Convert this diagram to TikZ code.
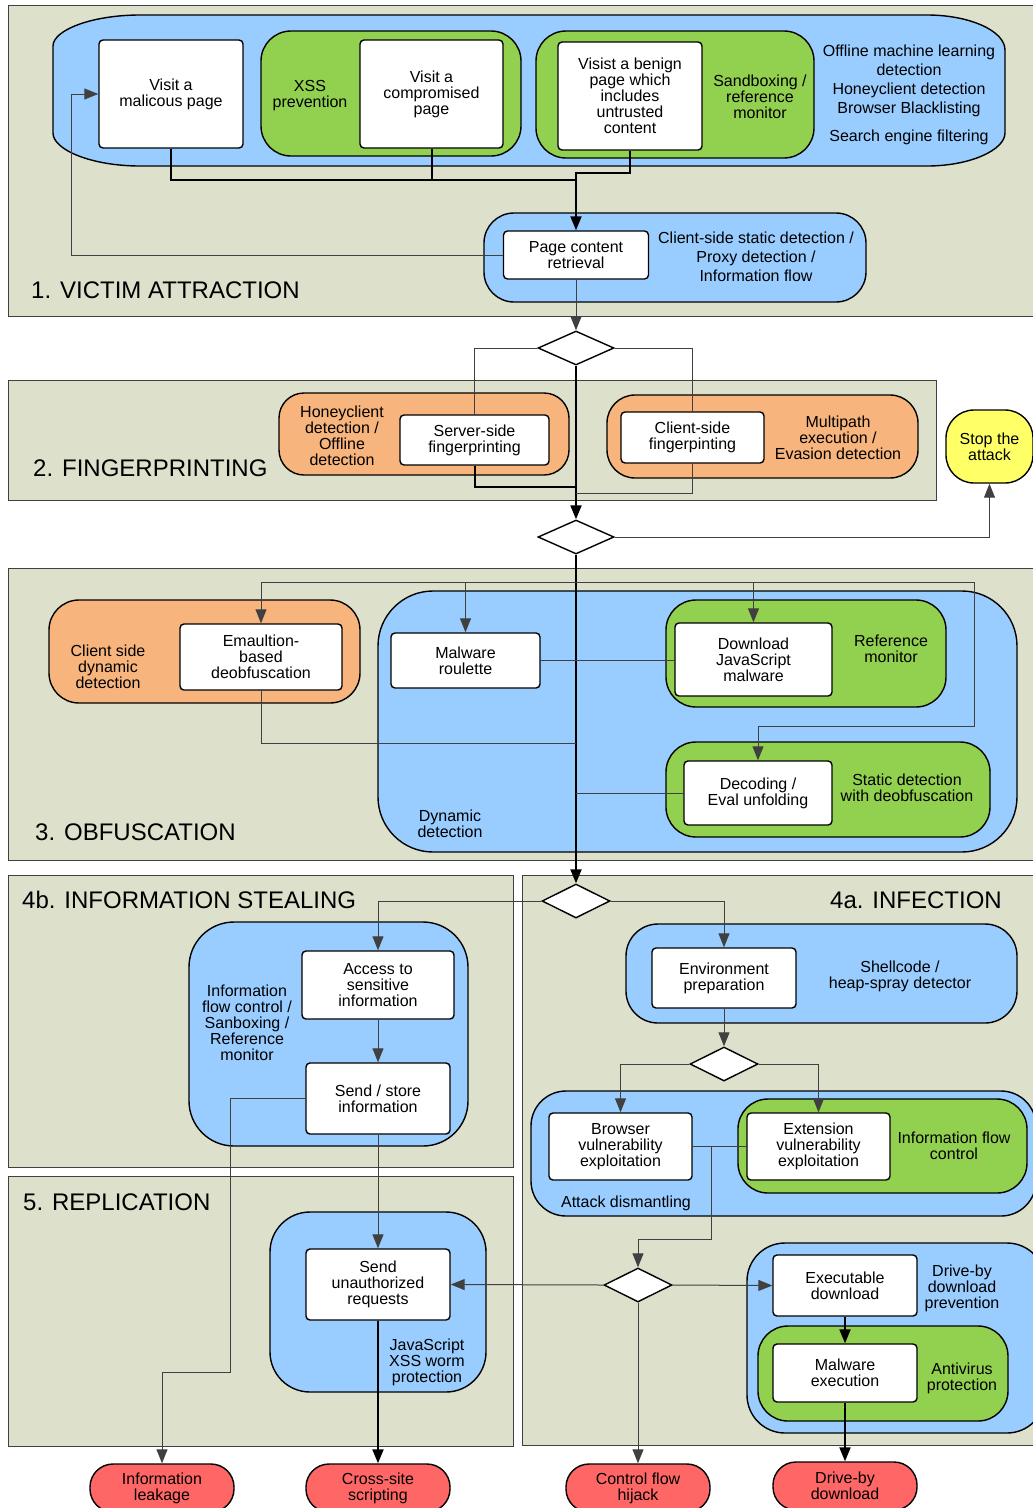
\documentclass[tikz,border=0pt]{standalone}
\usepackage{fontspec}
\setmainfont{Liberation Sans}
\usetikzlibrary{arrows.meta,shapes.geometric}
\definecolor{phasebg}{RGB}{221,225,204}
\definecolor{skyblue}{RGB}{153,204,255}
\definecolor{leafgreen}{RGB}{146,208,80}
\definecolor{peach}{RGB}{247,180,125}
\definecolor{lemon}{RGB}{255,255,102}
\definecolor{salmon}{RGB}{255,102,102}
\begin{document}
\begin{tikzpicture}[x=1pt,y=-1pt,
  phase/.style={draw=black!75,line width=1pt,fill=phasebg},
  bluebg/.style={draw,line width=1.4pt,fill=skyblue},
  greenbg/.style={draw,line width=1.4pt,fill=leafgreen},
  orangebg/.style={draw,line width=1.4pt,fill=peach},
  act/.style={draw,line width=1.4pt,fill=white,rounded corners=4pt,align=center,
    inner sep=0pt,font=\fontsize{16}{16}\selectfont},
  note/.style={align=center,inner sep=0pt,font=\fontsize{16}{16}\selectfont},
  widenote/.style={align=center,inner sep=0pt,font=\fontsize{16}{19}\selectfont},
  phasetitle/.style={inner sep=0pt,font=\fontsize{24}{24}\selectfont},
  decision/.style={diamond,draw,line width=1.4pt,fill=white,inner sep=0pt,
    minimum width=68pt,minimum height=34pt},
  outcome/.style={draw,line width=1.4pt,fill=salmon,rounded corners=23pt,align=center,
    inner sep=0pt,minimum width=144pt,minimum height=48pt,font=\fontsize{16}{16}\selectfont},
  halt/.style={draw,line width=1.4pt,fill=lemon,rounded corners=28pt,align=center,
    inner sep=0pt,minimum width=87pt,minimum height=73pt,font=\fontsize{16}{16}\selectfont},
  flow/.style={line width=2pt},
  link/.style={line width=1pt,black!75},
  arr/.style={-{Triangle[length=14pt,width=11pt]}}]
\useasboundingbox (0,0) rectangle (1033,1508);
\clip (0,0) rectangle (1033,1508);
\draw[phase] (8,5) rectangle (1040,316);
\draw[phase] (8,380) rectangle (936,500);
\draw[phase] (8,568) rectangle (1040,860);
\draw[phase] (8,875) rectangle (513,1167);
\draw[phase] (522,875) rectangle (1040,1445);
\draw[phase] (8,1176) rectangle (513,1446);
\draw[bluebg] (140,15) -- (927,15) .. controls (970,15) and (1005,31) .. (1005,50)
  -- (1005,133) .. controls (1005,150) and (970,166) .. (927,166)
  -- (140,166) .. controls (92,166) and (53,150) .. (53,133)
  -- (53,46) .. controls (53,30) and (92,15) .. (140,15) -- cycle;
\draw[greenbg,rounded corners=30pt] (261,31) rectangle (521,156);
\draw[greenbg,rounded corners=30pt] (536,31) rectangle (814,158);
\draw[bluebg,rounded corners=30pt] (484,213) rectangle (866,302);
\draw[orangebg,rounded corners=25pt] (279,393) rectangle (569,475);
\draw[orangebg,rounded corners=28pt] (607,395) rectangle (918,478);
\draw[orangebg,rounded corners=30pt] (49,600) rectangle (360,703);
\draw[bluebg,rounded corners=55pt] (378,591) rectangle (1017,852);
\draw[greenbg,rounded corners=30pt] (666,600) rectangle (946,707);
\draw[greenbg,rounded corners=30pt] (666,742) rectangle (990,837);
\draw[bluebg,rounded corners=45pt] (189,922) rectangle (468,1146);
\draw[bluebg,rounded corners=32pt] (626,924) rectangle (1017,1023);
\draw[bluebg,rounded corners=35pt] (531,1091) rectangle (1036,1216);
\draw[greenbg,rounded corners=30pt] (738,1099) rectangle (1027,1193);
\draw[bluebg,rounded corners=38pt] (747,1243) rectangle (1045,1433);
\draw[greenbg,rounded corners=30pt] (758,1326) rectangle (1008,1421);
\draw[bluebg,rounded corners=40pt] (270,1212) rectangle (486,1392);

\node[phasetitle,anchor=west] (t1) at (31,290) {1. VICTIM ATTRACTION};
\node[phasetitle,anchor=west] (t2) at (33,468) {2. FINGERPRINTING};
\node[phasetitle,anchor=west] (t3) at (35,832) {3. OBFUSCATION};
\node[phasetitle,anchor=west] (t4b) at (22,900) {4b. INFORMATION STEALING};
\node[phasetitle,anchor=east] (t4a) at (1002,900) {4a. INFECTION};
\node[phasetitle,anchor=west] (t5) at (23,1202) {5. REPLICATION};

\node[act,minimum width=144pt,minimum height=108pt] (malic) at (171,94) {Visit a\\malicous page};
\node[act,minimum width=143pt,minimum height=108pt] (compr) at (431.5,94) {Visit a\\compromised\\page};
\node[act,minimum width=144pt,minimum height=108pt] (benign) at (630,96) {Visist a benign\\page which\\includes\\untrusted\\content};
\node[act,minimum width=145pt,minimum height=48pt] (retr) at (576,255) {Page content\\retrieval};
\node[note] (xssp) at (310,96) {XSS\\prevention};
\node[note] (sandp) at (760,97) {Sandboxing /\\reference\\monitor};
\node[widenote] (offl) at (909,80.5) {Offline machine learning\\detection\\Honeyclient detection\\Browser Blacklisting};
\node[note] (srch) at (909,137) {Search engine filtering};
\node[widenote] (csd) at (756,257) {Client-side static detection /\\Proxy detection /\\Information flow};

\node[decision,minimum width=76pt] (d1) at (576,348) {};
\node[act,minimum width=149pt,minimum height=50pt] (server) at (474.5,440) {Server-side\\fingerprinting};
\node[act,minimum width=143pt,minimum height=51pt] (client) at (692.5,437.5) {Client-side\\fingerpinting};
\node[note] (hcd) at (342,436) {Honeyclient\\detection /\\Offline\\detection};
\node[note] (mpe) at (838,438) {Multipath\\execution /\\Evasion detection};
\node[halt] (stop) at (989.5,446.5) {Stop the\\attack};
\node[decision,minimum width=76pt] (d2) at (576,537) {};

\node[act,minimum width=162pt,minimum height=66pt] (emul) at (261,657) {Emaultion-\\based\\deobfuscation};
\node[act,minimum width=149pt,minimum height=55pt] (roul) at (465.5,660.5) {Malware\\roulette};
\node[act,minimum width=157pt,minimum height=73pt] (download) at (753.5,659.5) {Download\\JavaScript\\malware};
\node[act,minimum width=148pt,minimum height=64pt] (decode) at (758,793) {Decoding /\\Eval unfolding};
\node[note] (cdd) at (108,667) {Client side\\dynamic\\detection};
\node[note] (dynd) at (450,824) {Dynamic\\detection};
\node[note] (refm) at (891,649) {Reference\\monitor};
\node[note] (stat) at (907,788) {Static detection\\with deobfuscation};
\node[decision] (d3) at (576,901) {};

\node[act,minimum width=152pt,minimum height=68pt] (access) at (378,985) {Access to\\sensitive\\information};
\node[act,minimum width=144pt,minimum height=71pt] (store) at (378,1098.5) {Send / store\\information};
\node[note] (ifcs) at (247,1023) {Information\\flow control /\\Sanboxing /\\Reference\\monitor};

\node[act,minimum width=144pt,minimum height=60pt] (env) at (724,978) {Environment\\preparation};
\node[note] (shell) at (900,976) {Shellcode /\\heap-spray detector};
\node[decision] (d4) at (724,1064) {};
\node[act,minimum width=143pt,minimum height=67pt] (browser) at (620.5,1146.5) {Browser\\vulnerability\\exploitation};
\node[act,minimum width=143pt,minimum height=67pt] (ext) at (818.5,1146.5) {Extension\\vulnerability\\exploitation};
\node[note] (ifc) at (954,1146) {Information flow\\control};
\node[note] (atk) at (626,1203) {Attack dismantling};
\node[decision] (d5) at (638,1285) {};
\node[act,minimum width=144pt,minimum height=61pt] (exe) at (845,1285.5) {Executable\\download};
\node[act,minimum width=144pt,minimum height=58pt] (malex) at (845,1373) {Malware\\execution};
\node[note] (dbdp) at (962,1288) {Drive-by\\download\\prevention};
\node[note] (avp) at (962,1378) {Antivirus\\protection};

\node[act,minimum width=144pt,minimum height=71pt] (unauth) at (378,1284.5) {Send\\unauthorized\\requests};
\node[note] (jsw) at (427,1362) {JavaScript\\XSS worm\\protection};

\node[outcome] (leak) at (162,1488) {Information\\leakage};
\node[outcome] (xss) at (378,1488) {Cross-site\\scripting};
\node[outcome] (hijack) at (638,1488) {Control flow\\hijack};
\node[outcome] (dbd) at (845,1486) {Drive-by\\download};

\coordinate (m1) at (576,180);
\coordinate (m2) at (576,173);
\coordinate (m3) at (576,487);
\coordinate (m4) at (576,493);
\coordinate (m5) at (576,582);
\coordinate (m6) at (974,726);
\coordinate (m7) at (576,743);
\coordinate (m8) at (230,1372);
\coordinate (m9) at (711,1239);
\draw[flow] (malic.south) |- (m1);
\draw[flow] (compr.south) -- (compr.south |- m1);
\draw[flow,arr] (benign.south) |- (m2) -- (retr.north);
\draw[link,arr] (retr.west) -| ([xshift=-27pt]malic.west) -- (malic.west);
\draw[link,arr] (retr.south) -- (d1.north);
\draw[link] (d1.west) -| (server.north);
\draw[link] (d1.east) -| (client.north);
\draw[flow,arr] (d1.south) -- (d2.north);
\draw[flow] (server.south) |- (m3);
\draw[link] (client.south) |- (m4);
\draw[link,arr] (d2.east) -| (stop.south);
\draw[flow,arr] (d2.south) -- (d3.north);
\draw[link,arr] (m5) -| (emul.north);
\draw[link,arr] (roul.north |- m5) -- (roul.north);
\draw[link,arr] (download.north |- m5) -- (download.north);
\draw[link,arr] (m5) -| (m6) -| (decode.north);
\draw[link] (emul.south) |- (m7);
\draw[link] (roul.east) -- (roul.east -| download.west);
\draw[link] (decode.west) -- (decode.west -| m5);
\draw[link,arr] (d3.west) -| (access.north);
\draw[link,arr] (d3.east) -| (env.north);
\draw[link,arr] (access.south) -- (store.north);
\draw[link,arr] (store.west) -| (m8) -| (leak.north);
\draw[link,arr] (store.south) -- (unauth.north);
\draw[flow,arr] (unauth.south) -- (xss.north);
\draw[link,arr] (env.south) -- (d4.north);
\draw[link,arr] (d4.west) -| (browser.north);
\draw[link,arr] (d4.east) -| (ext.north);
\draw[link] (browser.east) -- (ext.west);
\draw[link,arr] (browser.east -| m9) -- (m9) -| (d5.north);
\draw[link,arr] (d5.west) -- (unauth.east);
\draw[link,arr] (d5.east) -- (exe.west);
\draw[link,arr] (d5.south) -- (hijack.north);
\draw[flow,arr] (exe.south) -- (malex.north);
\draw[flow,arr] (malex.south) -- (dbd.north);
\end{tikzpicture}
\end{document}
